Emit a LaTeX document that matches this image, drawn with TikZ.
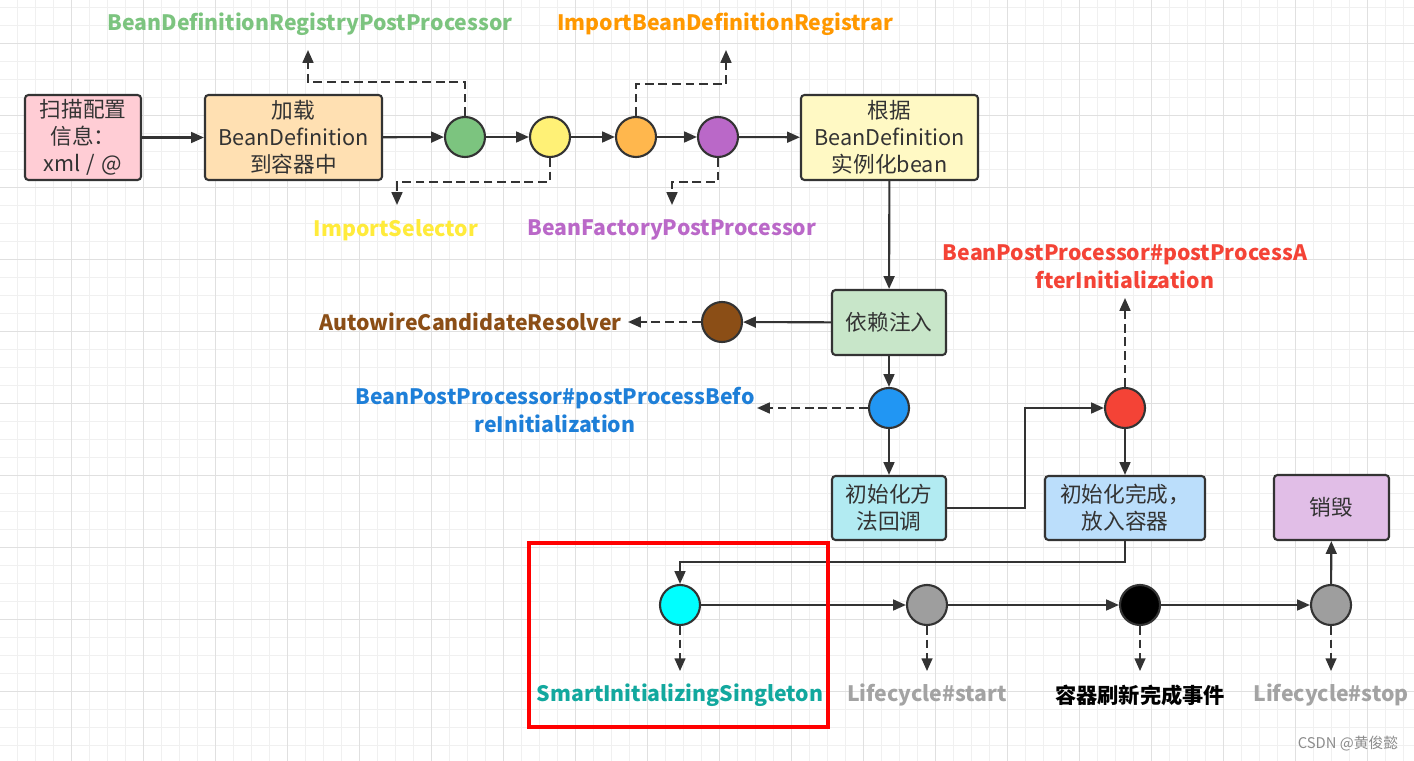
\documentclass[tikz,border=0pt]{standalone}
\usepackage{fontspec}
\setmainfont{Noto Sans CJK SC}
\usepackage{tikz}
\usetikzlibrary{arrows.meta}
\definecolor{linegray}{HTML}{333333}
\definecolor{fpink}{HTML}{FFCDD5}
\definecolor{forange}{HTML}{FFE0B2}
\definecolor{fyellow}{HTML}{FFF9C4}
\definecolor{fgreen}{HTML}{C8E6C9}
\definecolor{fcyan}{HTML}{B2EBF2}
\definecolor{fblue}{HTML}{BBDEFB}
\definecolor{fpurple}{HTML}{E1BEE7}
\definecolor{dgreen}{HTML}{7CC47F}
\definecolor{dyellow}{HTML}{FFF176}
\definecolor{dorange}{HTML}{FFB74D}
\definecolor{dpurple}{HTML}{BA68C8}
\definecolor{dbrown}{HTML}{8B4E16}
\definecolor{dblue}{HTML}{2196F3}
\definecolor{dred}{HTML}{F44336}
\definecolor{dgray}{HTML}{9E9E9E}
\definecolor{dcyan}{HTML}{00FFFF}
\definecolor{tyellow}{HTML}{FFEB3B}
\definecolor{torange}{HTML}{FF9800}
\definecolor{tblue}{HTML}{1E7FD8}
\definecolor{tteal}{HTML}{12A89E}
\definecolor{tgray}{HTML}{A3A3A3}

\begin{document}
\begin{tikzpicture}[x=0.025cm, y=-0.025cm,
line/.style={draw=linegray, line width=1.5pt},
flow/.style={line, -{Triangle[length=0.32cm,width=0.27cm]}},
dflow/.style={flow, dash pattern=on 0.22cm off 0.12cm},
box/.style={draw=linegray, line width=1.5pt, rounded corners=2.5pt, align=center,
  text=linegray, font=\fontsize{15.4}{19.2}\selectfont, inner sep=0pt},
dot/.style={circle, draw=linegray, line width=1.5pt, minimum size=1cm, inner sep=0pt},
tag/.style={font=\fontsize{15.1}{20}\selectfont\bfseries, align=center, inner sep=0pt},
gridminor/.style={draw=black!6, line width=0.6pt},
gridmajor/.style={draw=black!12, line width=0.6pt}]
\useasboundingbox[fill=white] (0,0) rectangle (1414,761);
% background grid
\foreach \i in {1,...,78} \draw[gridminor] ({-0.7+18*\i},0) -- ({-0.7+18*\i},761);
\foreach \i in {0,...,42} \draw[gridminor] (0,{7.3+18*\i}) -- (1414,{7.3+18*\i});
\foreach \i in {1,...,19} \draw[gridmajor] ({-0.7+72*\i},0) -- ({-0.7+72*\i},761);
\foreach \i in {0,...,10} \draw[gridmajor] (0,{43.3+72*\i}) -- (1414,{43.3+72*\i});

% boxes
\node[box, fill=fpink, minimum width=2.9cm, minimum height=2.125cm] (scan) at (83,137.5) {扫描配置\\信息：\\xml\hspace{0.3em}/\hspace{0.3em}@};
\node[box, fill=forange, minimum width=4.425cm, minimum height=2.125cm] (load) at (293.5,137.5) {加载\\BeanDefinition\\到容器中};
\node[box, fill=fyellow, minimum width=4.425cm, minimum height=2.125cm] (inst) at (889.5,137.5) {根据\\BeanDefinition\\实例化bean};
\node[box, fill=fgreen, minimum width=2.85cm, minimum height=1.625cm] (inject) at (889,322.5) {依赖注入};
\node[box, fill=fcyan, minimum width=2.85cm, minimum height=1.6cm] (initcb) at (889,508) {初始化方\\法回调};
\node[box, fill=fblue, minimum width=4cm, minimum height=1.6cm] (initdone) at (1125,508) {初始化完成，\\放入容器};
\node[box, fill=fpurple, minimum width=2.875cm, minimum height=1.625cm] (destroy) at (1331.5,507.5) {销毁};

% extension points
\node[dot, fill=dgreen] (cgreen) at (465,137) {};
\node[dot, fill=dyellow] (cyellow) at (550,137) {};
\node[dot, fill=dorange] (corange) at (636,137) {};
\node[dot, fill=dpurple] (cpurple) at (718,137) {};
\node[dot, fill=dbrown] (cbrown) at (722,322) {};
\node[dot, fill=dblue] (cblue) at (889,408) {};
\node[dot, fill=dred] (cred) at (1125,408) {};
\node[dot, fill=dcyan] (ccyan) at (680,605) {};
\node[dot, fill=dgray] (cstart) at (927,605) {};
\node[dot, fill=black] (cevent) at (1140,605) {};
\node[dot, fill=dgray] (cstop) at (1331,605) {};

% labels
\node[tag, text=dgreen] (lregistry) at (310,24) {BeanDefinitionRegistryPostProcessor};
\node[tag, text=torange] (lregistrar) at (725,24) {ImportBeanDefinitionRegistrar};
\node[tag, text=tyellow] (lselector) at (396,230) {ImportSelector};
\node[tag, text=dpurple] (lfactory) at (672,230) {BeanFactoryPostProcessor};
\node[tag, text=dbrown, anchor=east] (lautowire) at (622,322) {AutowireCandidateResolver};
\node[tag, text=tblue] (lbefore) at (555,410) {BeanPostProcessor\#postProcessBefo\\reInitialization};
\node[tag, text=dred] (lafter) at (1125,267) {BeanPostProcessor\#postProcessA\\fterInitialization};
\node[tag, text=tteal] (lsmart) at (680,695) {SmartInitializingSingleton};
\node[tag, text=tgray] (lstart) at (927,695) {Lifecycle\#start};
\node[tag, text=black] (levent) at (1140,695) {容器刷新完成事件};
\node[tag, text=tgray] (lstop) at (1331,695) {Lifecycle\#stop};

% arrow ends
\coordinate (tregistry) at (308,50);
\coordinate (tregistrar) at (726,50);
\coordinate (tselector) at (397,205);
\coordinate (tfactory) at (672,205);
\coordinate (tautowire) at (628,322);
\coordinate (tbefore) at (757,408);
\coordinate (tafter) at (1125,298);

% main flow
\draw[flow] (scan) -- (load);
\draw[flow] (load) -- (cgreen);
\draw[flow] (cgreen) -- (cyellow);
\draw[flow] (cyellow) -- (corange);
\draw[flow] (corange) -- (cpurple);
\draw[flow] (cpurple) -- (inst);
\draw[flow] (inst) -- (inject);
\draw[flow] (inject) -- (cbrown);
\draw[flow] (inject) -- (cblue);
\draw[flow] (cblue) -- (initcb);
\draw[flow] (initcb.east) -- (1025,508) |- (cred.west);
\draw[flow] (cred) -- (initdone);
\draw[flow] (initdone.south) |- (680,562) -- (ccyan.north);
\draw[flow] (ccyan) -- (cstart);
\draw[flow] (cstart) -- (cevent);
\draw[flow] (cevent) -- (cstop);
\draw[flow] (cstop) -- (destroy);

% side calls
\draw[dflow] (cgreen.north) |- (308,82) -- (tregistry);
\draw[dflow] (corange.north) |- (726,84) -- (tregistrar);
\draw[dflow] (cyellow.south) |- (397,182) -- (tselector);
\draw[dflow] (cpurple.south) |- (672,182) -- (tfactory);
\draw[dflow] (cbrown) -- (tautowire);
\draw[dflow] (cblue) -- (tbefore);
\draw[dflow] (cred) -- (tafter);
\foreach \c in {ccyan,cstart,cevent,cstop}
  \draw[dflow] (\c.south) -- ++(0,45);

\draw[red, line width=2.2pt] (529,543) rectangle (828,727);
\node[text=black!45, font=\fontsize{10.5}{12}\selectfont, inner sep=0pt] (mark) at (1348,744) {CSDN @黄俊懿};
\end{tikzpicture}
\end{document}
